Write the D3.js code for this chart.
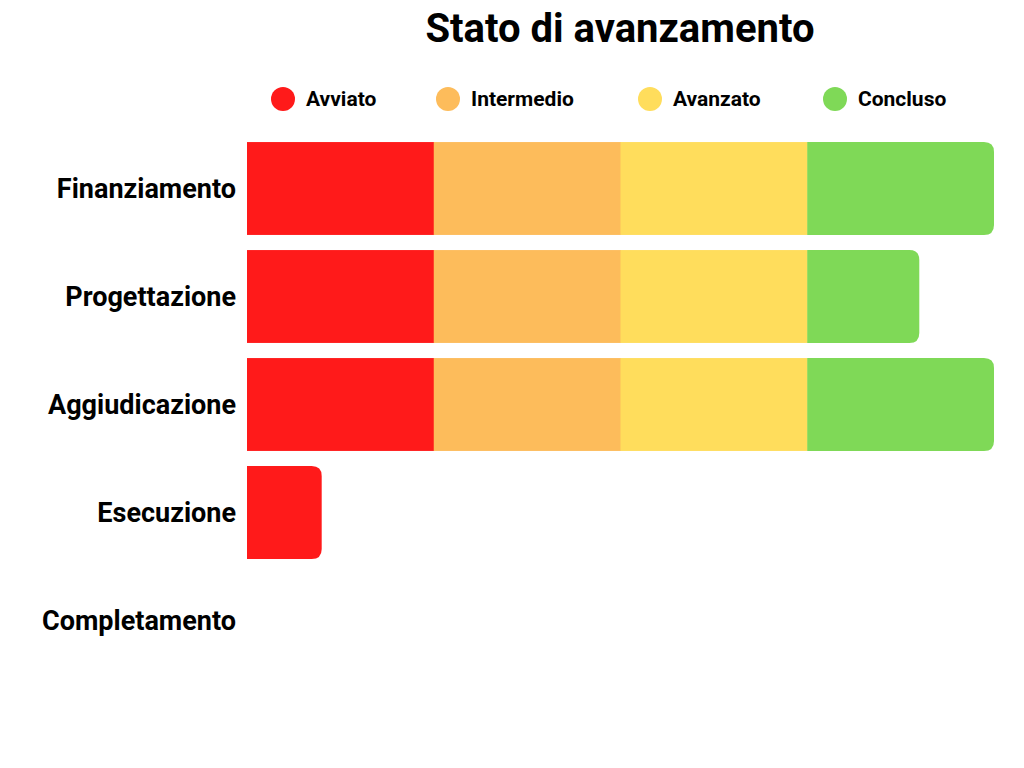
<!DOCTYPE html>
<html lang="en">
<head>
<meta charset="UTF-8" />
<title>Stato di avanzamento</title>
<script src="https://d3js.org/d3.v7.min.js"></script>
<style>
  body { margin: 0; background: #fff; font-family: Roboto, sans-serif; }
  text { font-family: Roboto, sans-serif; font-weight: bold; fill: #000; }
</style>
</head>
<body>
<div id="chart"></div>
<script>
  const phases = ["Finanziamento", "Progettazione", "Aggiudicazione", "Esecuzione", "Completamento"];
  const stages = ["Avviato", "Intermedio", "Avanzato", "Concluso"];
  const colors = ["#ff1a1a", "#fdbc5b", "#ffdd5c", "#7fd957"];
  // value per stage for each phase (out of 25 each)
  const avviato    = [25, 25, 25, 10, 0];
  const intermedio = [25, 25, 25, 0, 0];
  const avanzato   = [25, 25, 25, 0, 0];
  const concluso   = [25, 15, 25, 0, 0];
  const series = [avviato, intermedio, avanzato, concluso];

  const width = 1024, height = 768;
  const svg = d3.select("#chart").append("svg").attr("width", width).attr("height", height);

  const x = d3.scaleLinear().domain([0, 100]).range([247, 994]);
  const y = d3.scaleBand().domain(phases).range([134.5, 674.5]).paddingInner(0.14).paddingOuter(0.07);

  svg.append("text").attr("x", 620).attr("y", 42).attr("text-anchor", "middle")
    .style("font-size", "40px").text("Stato di avanzamento");

  // legend
  const legendX = [283, 448, 650, 835];
  stages.forEach((s, i) => {
    svg.append("circle").attr("cx", legendX[i]).attr("cy", 99).attr("r", 12).attr("fill", colors[i]);
    svg.append("text").attr("x", legendX[i] + 23).attr("y", 99).attr("dy", "0.35em")
      .style("font-size", "21px").text(s);
  });

  function segPath(x0, x1, y0, h, r) {
    r = Math.min(r, x1 - x0, h / 2);
    return `M${x0},${y0}H${x1 - r}Q${x1},${y0} ${x1},${y0 + r}V${y0 + h - r}Q${x1},${y0 + h} ${x1 - r},${y0 + h}H${x0}Z`;
  }

  phases.forEach((p, pi) => {
    let acc = 0;
    const vals = series.map(s => s[pi]);
    const lastIdx = vals.reduce((m, v, i) => v > 0 ? i : m, -1);
    vals.forEach((v, si) => {
      if (v <= 0) return;
      const x0 = x(acc), x1 = x(acc + v);
      if (si === lastIdx) {
        svg.append("path").attr("d", segPath(x0, x1, y(p), y.bandwidth(), 10)).attr("fill", colors[si]);
      } else {
        svg.append("rect").attr("x", x0).attr("y", y(p)).attr("width", x1 - x0 + 0.5)
          .attr("height", y.bandwidth()).attr("fill", colors[si]);
      }
      acc += v;
    });
    svg.append("text").attr("x", 236).attr("y", y(p) + y.bandwidth() / 2).attr("dy", "0.35em")
      .attr("text-anchor", "end").style("font-size", "27px").text(p);
  });
</script>
</body>
</html>
